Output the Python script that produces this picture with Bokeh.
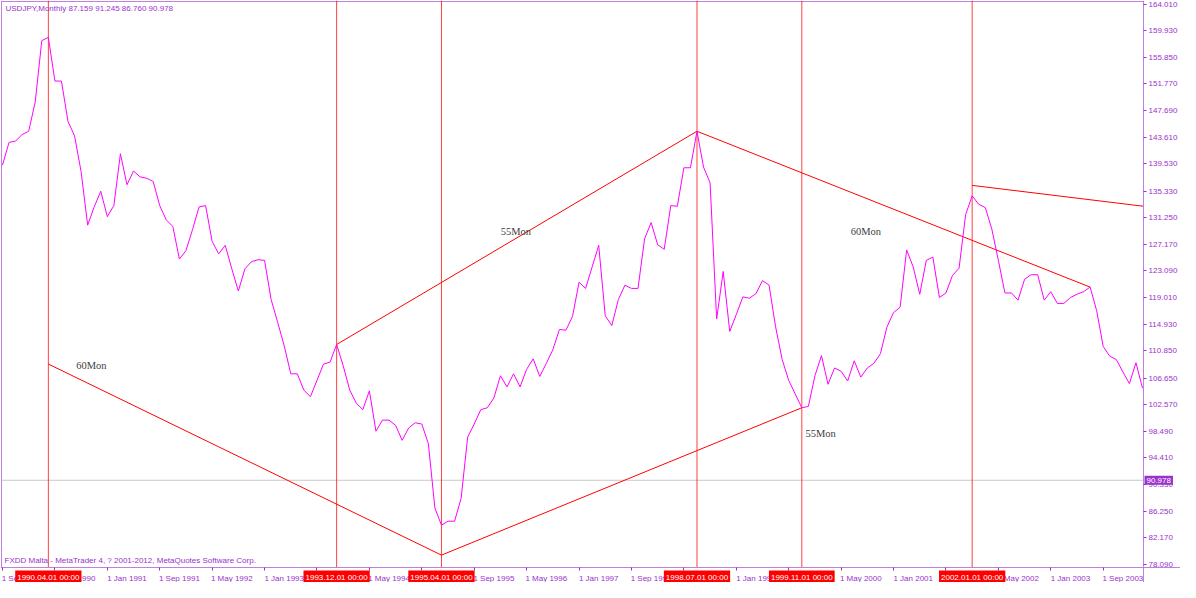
from bokeh.plotting import figure
from bokeh.models import Range1d, FixedTicker, PrintfTickFormatter, Label
from bokeh.embed import file_html
from bokeh.resources import INLINE

# ---- data (monthly USDJPY closes, Sep 1989 .. Mar 2004) ----
closes = [
    139.3, 142.8, 143.0, 144.0, 144.5, 149.0, 158.4, 158.9, 152.2, 152.2,
    146.0, 143.8, 138.3, 130.1, 132.9, 135.3, 131.4, 133.1, 141.05, 136.3,
    138.4, 137.5, 137.3, 136.8, 133.1, 130.9, 129.9, 124.9, 126.2, 129.4,
    132.9, 133.1, 127.6, 125.7, 127.0, 123.4, 120.0, 123.4, 124.5, 124.8,
    124.7, 118.7, 115.2, 111.6, 107.3, 107.3, 104.8, 103.8, 106.3, 108.8,
    109.1, 111.8, 108.55, 104.8, 102.8, 101.8, 104.7, 98.5, 100.2, 100.2,
    99.4, 97.1, 99.0, 99.8, 99.6, 96.6, 86.7, 84.1, 84.7, 84.7,
    88.2, 97.6, 99.6, 101.8, 102.1, 103.6, 107.0, 105.3, 107.3, 105.3,
    108.0, 109.6, 106.9, 108.9, 111.0, 114.1, 114.0, 116.1, 121.35, 120.4,
    123.7, 127.0, 116.2, 114.7, 118.7, 120.9, 120.4, 120.4, 128.0, 130.5,
    127.1, 126.4, 133.1, 133.0, 138.9, 138.9, 144.5, 139.0, 136.6, 115.7,
    123.0, 113.8, 116.4, 119.1, 118.9, 119.6, 121.6, 120.9, 114.5, 109.5,
    106.3, 104.2, 102.1, 102.3, 107.0, 110.1, 105.7, 108.2, 107.7, 106.2,
    109.3, 106.8, 108.2, 108.9, 110.4, 114.5, 116.7, 117.5, 126.3, 123.7,
    119.5, 124.7, 125.2, 119.0, 119.7, 122.4, 123.5, 131.7, 134.6, 133.3,
    132.8, 129.5, 124.7, 119.7, 119.7, 118.6, 121.8, 122.5, 122.5, 118.6,
    119.9, 118.1, 118.1, 119.0, 119.5, 119.9, 120.6, 117.0, 111.5, 110.0,
    109.5, 107.6, 105.8, 109.0, 105.1,
]
months = list(range(len(closes)))

date_tick_months = list(range(0, 169, 8))
date_tick_labels = [
    "1 Sep 1989", "1 May 1990", "1 Jan 1991", "1 Sep 1991", "1 May 1992",
    "1 Jan 1993", "1 Sep 1993", "1 May 1994", "1 Jan 1995", "1 Sep 1995",
    "1 May 1996", "1 Jan 1997", "1 Sep 1997", "1 May 1998", "1 Jan 1999",
    "1 Sep 1999", "1 May 2000", "1 Jan 2001", "1 Sep 2001", "1 May 2002",
    "1 Jan 2003", "1 Sep 2003",
]

price_ticks = [
    164.010, 159.930, 155.850, 151.770, 147.690, 143.610, 139.530, 135.330,
    131.250, 127.170, 123.090, 119.010, 114.930, 110.850, 106.650, 102.570,
    98.490, 94.410, 90.330, 86.250, 82.170, 78.090,
]

marker_months = [7, 51, 67, 106, 122, 148]
marker_labels = [
    "1990.04.01 00:00", "1993.12.01 00:00", "1995.04.01 00:00",
    "1998.07.01 00:00", "1999.11.01 00:00", "2002.01.01 00:00",
]

trend_x0 = [7, 67, 51, 106, 148]
trend_y0 = [108.8, 79.5, 111.8, 144.5, 136.2]
trend_x1 = [67, 122, 106, 166, 174.15]
trend_y1 = [79.5, 102.1, 144.5, 120.6, 133.0]

note_text = ["60Mon", "55Mon", "60Mon", "55Mon"]
note_x = [11.25, 76.05, 129.45, 122.55]
note_y = [108.55, 129.2, 129.1, 98.2]

current_price = 90.978
header_text = "USDJPY,Monthly  87.159 91.245 86.760 90.978"
footer_text = "FXDD Malta - MetaTrader 4, ? 2001-2012, MetaQuotes Software Corp."

# ---- view window (chart area edges in data units) ----
X_LO, X_HI = -0.15, 174.15      # time span visible in the chart area
Y_LO, Y_HI = 77.6, 164.4        # price span visible in the chart area

W, H = 1180, 582
AREA_W, AREA_H = 1142, 566      # chart area in pixels
kx = (X_HI - X_LO) / AREA_W
ky = (Y_HI - Y_LO) / AREA_H
BOTTOM = H - AREA_H - 1         # height of the time-scale strip

FG = "#9932cc"
AXIS = "#c080e0"
FONT = "Liberation Sans"

p = figure(
    width=W, height=H,
    x_range=Range1d(X_LO - 1 * kx, X_HI + (W - AREA_W - 1) * kx),
    y_range=Range1d(Y_LO - BOTTOM * ky, Y_HI + 1 * ky),
    output_backend="svg", toolbar_location=None,
    x_axis_location="below", y_axis_location="right",
    min_border_left=0, min_border_top=0, min_border_right=0, min_border_bottom=0,
    background_fill_color="white", border_fill_color="white",
)
p.grid.visible = False
p.outline_line_color = None

ya = p.yaxis[0]
ya.fixed_location = X_HI
ya.ticker = FixedTicker(ticks=price_ticks)
ya.formatter = PrintfTickFormatter(format="%.3f")
ya.axis_line_color = AXIS
ya.major_tick_line_color = FG
ya.major_tick_out = 3
ya.major_tick_in = 0
ya.minor_tick_line_color = None
ya.major_label_standoff = 2
ya.major_label_text_font = FONT
ya.major_label_text_font_size = "8px"
ya.major_label_text_color = FG

xa = p.xaxis[0]
xa.fixed_location = Y_LO
xa.ticker = FixedTicker(ticks=[m + 3 for m in date_tick_months], minor_ticks=date_tick_months)
xa.major_label_overrides = {m + 3: lab for m, lab in zip(date_tick_months, date_tick_labels)}
xa.axis_line_color = AXIS
xa.major_tick_line_color = None
xa.major_tick_out = 0
xa.major_tick_in = 0
xa.minor_tick_line_color = FG
xa.minor_tick_out = 3
xa.minor_tick_in = 0
xa.major_label_standoff = 3
xa.major_label_text_font = FONT
xa.major_label_text_font_size = "8px"
xa.major_label_text_color = FG

# chart-area border (left and top)
p.segment(x0=[X_LO, X_LO], y0=[Y_LO, Y_HI], x1=[X_LO, X_HI], y1=[Y_HI + 1 * ky, Y_HI],
          line_color=AXIS, line_width=1)

# current price horizontal line
p.segment(x0=[X_LO], y0=[current_price], x1=[X_HI], y1=[current_price],
          line_color="#c8c8c8", line_width=1)

# vertical marker lines
p.segment(x0=marker_months, y0=[Y_LO] * len(marker_months),
          x1=marker_months, y1=[Y_HI + 1 * ky] * len(marker_months),
          line_color="#ff0000", line_alpha=0.75, line_width=1)

# trend lines
p.segment(x0=trend_x0, y0=trend_y0, x1=trend_x1, y1=trend_y1, line_color="#ff0000", line_width=1)

# price line
p.line(months, closes, line_color="#ff00ff", line_width=1)

# notes
p.text(x=note_x, y=note_y, text=note_text, text_font={"value": "Liberation Serif"},
       text_font_size="10.5px", text_color="#404040", text_align="left", text_baseline="middle")

# header & footer
p.add_layout(Label(x=5, y=H - 3, x_units="screen", y_units="screen", text=header_text,
                   text_font=FONT, text_font_size="8px", text_color=FG, text_baseline="top"))
p.add_layout(Label(x=4, y=BOTTOM + 3, x_units="screen", y_units="screen", text=footer_text,
                   text_font=FONT, text_font_size="8px", text_color=FG, text_baseline="bottom"))

# date boxes on time axis
for m, lab in zip(marker_months, marker_labels):
    p.add_layout(Label(x=m, y=BOTTOM - 3, x_units="data", y_units="screen", text=lab,
                       text_font=FONT, text_font_size="8px", text_color="white",
                       text_align="center", text_baseline="top",
                       background_fill_color="#ff0000", padding=2))

# current price box on price axis
p.add_layout(Label(x=AREA_W + 2, y=current_price, x_units="screen", y_units="data",
                   text="%.3f" % current_price, text_font=FONT, text_font_size="8px",
                   text_color="white", text_align="left", text_baseline="middle",
                   background_fill_color=FG, padding=2))

open("out.html", "w").write(file_html(p, INLINE))
